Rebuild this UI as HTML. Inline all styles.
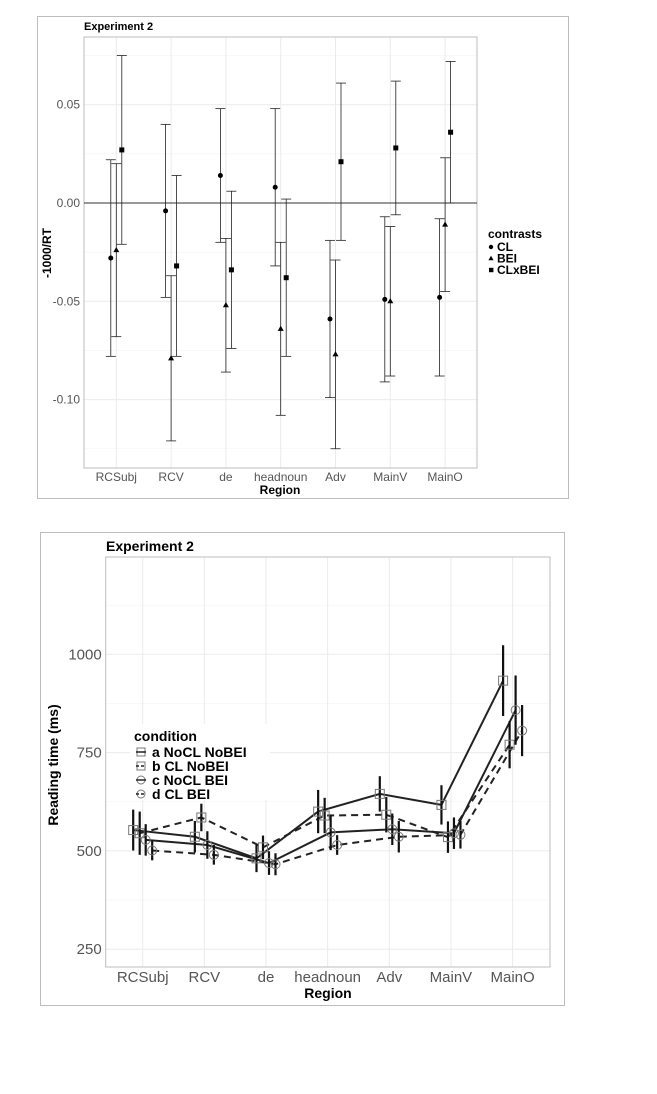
<!DOCTYPE html>
<html><head><meta charset="utf-8"><style>
body{margin:0;background:#fff;width:657px;height:1089px;overflow:hidden}
svg{font-family:"Liberation Sans",sans-serif}
</style></head><body>
<svg width="657" height="1089" viewBox="0 0 657 1089">
<g id="top"></g>
<g id="bot"></g>
</svg>
<script>
const NS="http://www.w3.org/2000/svg";
const regions=["RCSubj","RCV","de","headnoun","Adv","MainV","MainO"];
// top chart data
const contrastNames=["CL","BEI","CLxBEI"];
const clMean=[-0.028,-0.004,0.014,0.008,-0.059,-0.049,-0.048];
const clLo=[-0.078,-0.048,-0.020,-0.032,-0.099,-0.091,-0.088];
const clHi=[0.022,0.040,0.048,0.048,-0.019,-0.007,-0.008];
const beiMean=[-0.024,-0.079,-0.052,-0.064,-0.077,-0.050,-0.011];
const beiLo=[-0.068,-0.121,-0.086,-0.108,-0.125,-0.088,-0.045];
const beiHi=[0.020,-0.037,-0.018,-0.020,-0.029,-0.012,0.023];
const xMean=[0.027,-0.032,-0.034,-0.038,0.021,0.028,0.036];
const xLo=[-0.021,-0.078,-0.074,-0.078,-0.019,-0.006,0.000];
const xHi=[0.075,0.014,0.006,0.002,0.061,0.062,0.072];
const topTicks=[0.05,0,-0.05,-0.10];
const topTickLabels=["0.05","0.00","-0.05","-0.10"];
// bottom chart data
const condNames=["a NoCL NoBEI","b CL NoBEI","c NoCL BEI","d CL BEI"];
const aMean=[553,536,481,600,645,617,933];
const bMean=[545,585,509,590,592,535,770];
const cMean=[528,515,469,547,555,545,858];
const dMean=[501,490,466,515,536,541,806];
const aErr=[52,40,35,55,45,50,90];
const bErr=[55,35,30,45,45,40,60];
const cErr=[40,35,30,45,40,40,88];
const dErr=[25,25,28,25,40,35,65];
const botTicks=[250,500,750,1000];
const botTickLabels=["250","500","750","1000"];

function el(tag,attrs,parent,text){const e=document.createElementNS(NS,tag);for(const k in attrs)e.setAttribute(k,attrs[k]);if(text!==undefined)e.textContent=text;parent.appendChild(e);return e;}

// ---------- TOP ----------
(function(){
const g=document.getElementById('top');
const L=84,R=477,T=37,B=468;
const y=v=>203-(v)*(98.3/0.05);
const x=i=>116.3+i*54.8;
let e=el('rect',{x:37.5,y:16.5,width:531,height:482,fill:'#fff',stroke:'#bdbdbd'},g);

e=el('rect',{x:L,y:T,width:R-L,height:B-T,fill:'#fff'},g);

for(let v=0.075;v>-0.14;v-=0.05){const yy=y(v);if(yy>T&&yy<B){e=el('line',{x1:L,x2:R,y1:yy,y2:yy,stroke:'#f3f3f3','stroke-width':0.6},g);}}
topTicks.forEach((v,i)=>{e=el('line',{x1:L,x2:R,y1:y(v),y2:y(v),stroke:'#ebebeb','stroke-width':1},g);
 e=el('text',{x:L-4,y:y(v)+4,'text-anchor':'end','font-size':12,fill:'#555'},g,topTickLabels[i]);});
regions.forEach((r,i)=>{e=el('line',{x1:x(i),x2:x(i),y1:T,y2:B,stroke:'#ebebeb'},g);
 e=el('text',{x:x(i),y:481,'text-anchor':'middle','font-size':12,fill:'#555'},g,r);});
e=el('rect',{x:L,y:T,width:R-L,height:B-T,fill:'none',stroke:'#bdbdbd'},g);
e=el('line',{x1:L,x2:R,y1:y(0),y2:y(0),stroke:'#333','stroke-width':1},g);
const series=[[clMean,clLo,clHi,-5.5,'circle'],[beiMean,beiLo,beiHi,0,'tri'],[xMean,xLo,xHi,5.5,'sq']];
series.forEach((s,si)=>{s[0].forEach((m,i)=>{const cx=x(i)+s[3];
 const gg=el('g',{},g);
 el('line',{x1:cx,x2:cx,y1:y(s[1][i]),y2:y(s[2][i]),stroke:'#222','stroke-width':0.8},gg);
 el('line',{x1:cx-5,x2:cx+5,y1:y(s[1][i]),y2:y(s[1][i]),stroke:'#222','stroke-width':0.8},gg);
 el('line',{x1:cx-5,x2:cx+5,y1:y(s[2][i]),y2:y(s[2][i]),stroke:'#222','stroke-width':0.8},gg);
 const cy=y(m);let p;
 if(s[4]=='circle')p=el('circle',{cx:cx,cy:cy,r:2.5,fill:'#000'},g);
 else if(s[4]=='tri')p=el('polygon',{points:`${cx},${cy-3.2} ${cx-3},${cy+2} ${cx+3},${cy+2}`,fill:'#000'},g);
 else p=el('rect',{x:cx-2.5,y:cy-2.5,width:5,height:5,fill:'#000'},g);
 
});});
e=el('text',{x:L,y:30,'font-size':11,'font-weight':'bold'},g,'Experiment 2');
e=el('text',{x:280,y:494,'text-anchor':'middle','font-size':12,'font-weight':'bold'},g,'Region');
e=el('text',{x:0,y:0,'text-anchor':'middle','font-size':12,'font-weight':'bold',transform:'translate(51,253) rotate(-90)'},g,'-1000/RT');
e=el('text',{x:488,y:238,'font-size':12,'font-weight':'bold'},g,'contrasts');
contrastNames.forEach((n,i)=>{const yy=247+i*11.5;const lg=el('g',{},g);
 if(i==0)el('circle',{cx:491,cy:yy-0,r:2.2,fill:'#000'},lg);
 else if(i==1)el('polygon',{points:`491,${yy-2.7} 488.4,${yy+1.7} 493.6,${yy+1.7}`,fill:'#000'},lg);
 else el('rect',{x:489,y:yy-2.2,width:4.4,height:4.4,fill:'#000'},lg);
 el('text',{x:497,y:yy+4,'font-size':12,'font-weight':'bold'},lg,n);});
})();

// ---------- BOTTOM ----------
(function(){
const g=document.getElementById('bot');
const L=105.7,R=550,T=557,B=967;
const y=v=>654.3-(v-1000)*(98.3/250);
const x=i=>142.7+i*61.65;
let e=el('rect',{x:40.5,y:532.5,width:524,height:473,fill:'#fff',stroke:'#bdbdbd'},g);

for(let v=375;v<=1125;v+=250){e=el('line',{x1:L,x2:R,y1:y(v),y2:y(v),stroke:'#f3f3f3','stroke-width':0.6},g);}
botTicks.forEach((v,i)=>{e=el('line',{x1:L,x2:R,y1:y(v),y2:y(v),stroke:'#ebebeb'},g);
 e=el('text',{x:L-4,y:y(v)+5,'text-anchor':'end','font-size':15,fill:'#555'},g,botTickLabels[i]);});
regions.forEach((r,i)=>{e=el('line',{x1:x(i),x2:x(i),y1:T,y2:B,stroke:'#ebebeb'},g);
 e=el('text',{x:x(i),y:982,'text-anchor':'middle','font-size':15,fill:'#555'},g,r);});
e=el('rect',{x:L,y:T,width:R-L,height:B-T,fill:'none',stroke:'#bdbdbd'},g);
const series=[[aMean,aErr,-9.5,'sq',false],[bMean,bErr,-3,'sq',true],[cMean,cErr,3,'circ',false],[dMean,dErr,9.5,'circ',true]];
series.forEach((s,si)=>{
 const pts=s[0].map((m,i)=>`${x(i)+s[2]},${y(m)}`).join(' ');
 e=el('polyline',{points:pts,fill:'none',stroke:'#222','stroke-width':2,'stroke-dasharray':s[4]?'7,5':'none'},g);
 
});
series.forEach((s,si)=>{s[0].forEach((m,i)=>{const cx=x(i)+s[2];
 e=el('line',{x1:cx,x2:cx,y1:y(m-s[1][i]),y2:y(m+s[1][i]),stroke:'#111','stroke-width':2.2},g);
 
 let p;if(s[3]=='sq')p=el('rect',{x:cx-4.5,y:y(m)-4.5,width:9,height:9,fill:'none',stroke:'#777','stroke-width':1},g);
 else p=el('circle',{cx:cx,cy:y(m),r:4.5,fill:'none',stroke:'#777','stroke-width':1},g);
 
});});
const lgb=el('g',{},g);
el('rect',{x:130,y:724,width:140,height:76,fill:'#fff'},lgb);
el('text',{x:134,y:741,'font-size':14,'font-weight':'bold'},lgb,'condition');
condNames.forEach((n,i)=>{const yy=752+i*14;const lg=el('g',{},lgb);
 if(i<2)el('rect',{x:137,y:yy-4,width:8,height:8,fill:'none',stroke:'#777'},lg);else el('circle',{cx:141,cy:yy,r:4,fill:'none',stroke:'#777'},lg);
 el('line',{x1:136,x2:146,y1:yy,y2:yy,stroke:'#222','stroke-width':1.5,'stroke-dasharray':(i%2)?'3,2':'none'},lg);
 el('text',{x:152,y:yy+5,'font-size':14,'font-weight':'bold'},lg,n);});
e=el('text',{x:106,y:551,'font-size':14,'font-weight':'bold'},g,'Experiment 2');
e=el('text',{x:328,y:998,'text-anchor':'middle','font-size':14,'font-weight':'bold'},g,'Region');
e=el('text',{x:0,y:0,'text-anchor':'middle','font-size':14,'font-weight':'bold',transform:'translate(58,765) rotate(-90)'},g,'Reading time (ms)');
})();
</script>
</body></html>
